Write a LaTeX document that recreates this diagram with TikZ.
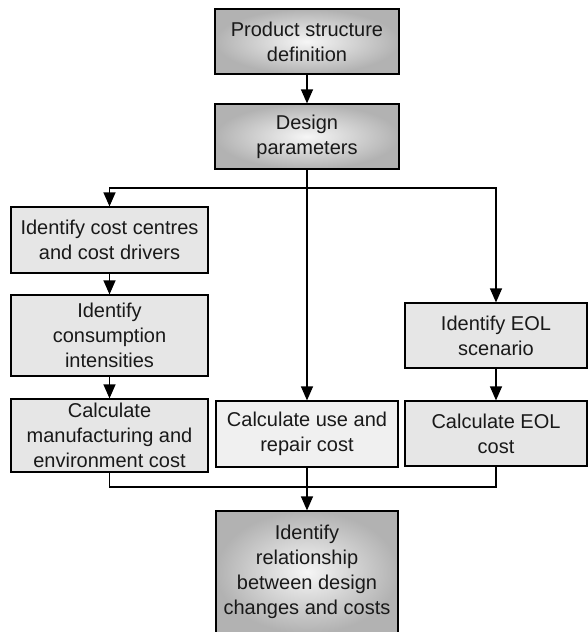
\documentclass[tikz,border=0pt]{standalone}
\usepackage{fontspec}
\setmainfont{Liberation Sans}
\usetikzlibrary{arrows.meta}
\definecolor{boxgrey}{RGB}{230,230,230}
\definecolor{boxlight}{RGB}{240,240,240}
\definecolor{shadeedge}{RGB}{178,178,178}
\definecolor{shadecentre}{RGB}{246,246,246}
\definecolor{ink}{RGB}{25,25,25}

\tikzset{
    stepbox/.style={draw=black, line width=1.2pt, inner sep=0pt, align=center,
        font=\fontsize{20}{25}\selectfont, text=ink},
    flatbox/.style={stepbox, fill=boxgrey},
    keybox/.style={stepbox, inner color=shadecentre, outer color=shadeedge},
    flow/.style={line width=1.2pt, -{Triangle[length=14pt, width=12pt]}},
    link/.style={line width=1.2pt},
}

\begin{document}
\begin{tikzpicture}[x=1pt, y=-1pt]

    \useasboundingbox (0,0) rectangle (587,632);

    % main line
    \node[keybox, minimum width=184pt, minimum height=65pt] (product) at (307,41.5) {Product structure\\definition};
    \node[keybox, minimum width=184pt, minimum height=65pt] (design) at (307,136.5) {Design\\parameters};

    % manufacturing column
    \node[flatbox, minimum width=197pt, minimum height=66pt] (centres) at (109.5,240) {Identify cost centres\\and cost drivers};
    \node[flatbox, minimum width=197pt, minimum height=81pt] (intens) at (109.5,335.5) {Identify\\consumption\\intensities};
    \node[flatbox, minimum width=197pt, minimum height=73pt] (manuf) at (109.5,435.5) {Calculate\\manufacturing and\\environment cost};

    % use column
    \node[stepbox, fill=boxlight, minimum width=182pt, minimum height=66pt] (usecost) at (307,434) {Calculate use and\\repair cost};

    % EOL column
    \node[flatbox, minimum width=182pt, minimum height=65pt] (eolscen) at (496,335.5) {Identify EOL\\scenario};
    \node[flatbox, minimum width=182pt, minimum height=65pt] (eolcost) at (496,433.5) {Calculate EOL\\cost};

    \node[keybox, minimum width=182pt, minimum height=122pt] (relation) at (307,572) {Identify\\relationship\\between design\\changes and costs};

    \coordinate (branch) at (307,188);
    \coordinate (join) at (307,487);

    \draw[flow] (product) -- (design);
    \draw[flow] (design) -- (usecost);
    \draw[flow] (branch) -| (centres.north);
    \draw[flow] (branch) -| (eolscen.north);
    \draw[flow] (centres) -- (intens);
    \draw[flow] (intens) -- (manuf);
    \draw[flow] (eolscen) -- (eolcost);

    \draw[link] (manuf.south) |- (join);
    \draw[link] (eolcost.south) |- (join);
    \draw[flow] (usecost) -- (relation);

\end{tikzpicture}
\end{document}
